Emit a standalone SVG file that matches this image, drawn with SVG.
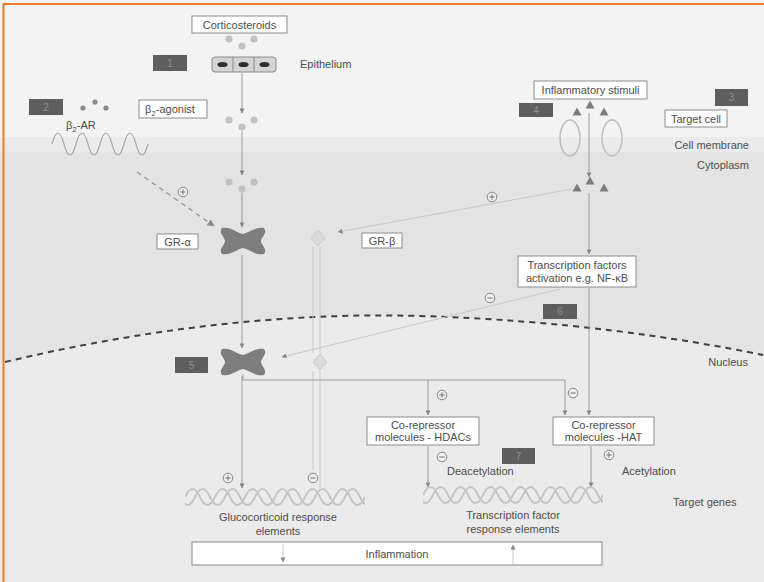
<svg xmlns="http://www.w3.org/2000/svg" width="764" height="582" viewBox="0 0 764 582">
  <style>
    text { font-family: "Liberation Sans", Arial, sans-serif; font-size: 11px; fill: #4d4d4d; }
    .c { text-anchor: middle; }
    .r { text-anchor: end; }
    .box { fill: #ffffff; stroke: #8c8c8c; stroke-width: 1; }
    .badge { fill: #5e5e5e; }
    .badge-t { font-size: 10px; fill: #8e8e8e; text-anchor: middle; }
    .link { fill: none; stroke: #9a9a9a; stroke-width: 1; }
    .faint { fill: none; stroke: #c8c8c8; stroke-width: 1; }
    .dash { fill: none; stroke: #9a9a9a; stroke-width: 1.4; stroke-dasharray: 5 4; }
    .dot { fill: #c2c2c2; }
    .dot-dk { fill: #8a8a8a; }
    .tri { fill: #7c7c7c; }
    .gr { fill: #7e7e7e; }
    .diam { fill: #dadada; stroke: #cbcbcb; stroke-width: 1; }
    .dna { fill: none; stroke: #c6c6c6; stroke-width: 2; }
  </style>
  <defs>
    <marker id="ah" viewBox="0 0 6 6" refX="5.5" refY="3" markerWidth="5" markerHeight="5" orient="auto">
      <path d="M0,0 L6,3 L0,6 z" fill="#888"/>
    </marker>
    <g id="sgn-plus">
      <circle r="4.8" fill="#efefef" stroke="#7a7a7a" stroke-width="0.9"/>
      <path d="M-2.7,0 H2.7 M0,-2.7 V2.7" stroke="#6a6a6a" stroke-width="0.9"/>
    </g>
    <g id="sgn-minus">
      <circle r="4.8" fill="#efefef" stroke="#7a7a7a" stroke-width="0.9"/>
      <path d="M-2.7,0 H2.7" stroke="#6a6a6a" stroke-width="0.9"/>
    </g>
    <path id="gr-shape" d="M-21,-13 C-13,-15 -6,-8 0,-7 C6,-8 13,-15 21,-13 C25,-8 18,-4 18,0 C18,4 25,8 21,13 C13,15 6,8 0,7 C-6,8 -13,15 -21,13 C-25,8 -18,4 -18,0 C-18,-4 -25,-8 -21,-13 Z"/>
    <path id="diamond" d="M0,-8 L7,0 L0,8 L-7,0 Z"/>
    <path id="tri" d="M0,-4.5 L4.5,3.5 L-4.5,3.5 Z"/>
    <g id="dots3">
      <circle cx="-13" cy="0" r="3.6"/>
      <circle cx="12" cy="0" r="3.6"/>
      <circle cx="0" cy="7" r="3.6"/>
    </g>
    <!-- one DNA double strand, 180 px long, strands a third of a turn apart -->
    <clipPath id="dna-clip"><rect x="0" y="-12" width="180" height="24"/></clipPath>
    <g id="dna-helix" clip-path="url(#dna-clip)">
      <path d="M0,0 Q7.5,-16 15,0 T30,0 T45,0 T60,0 T75,0 T90,0 T105,0 T120,0 T135,0 T150,0 T165,0 T180,0" class="dna"/>
      <path d="M-20,0 Q-12.5,-16 -5,0 T10,0 T25,0 T40,0 T55,0 T70,0 T85,0 T100,0 T115,0 T130,0 T145,0 T160,0 T175,0 T190,0" class="dna"/>
    </g>
  </defs>

  <!-- compartments -->
  <rect x="0" y="0" width="764" height="582" fill="#f3f3f3"/>
  <rect x="0" y="137" width="764" height="15" fill="#ebebeb"/>
  <path d="M0,152 H764 V355 C680,338 560,320 420,316 C280,312 140,330 5,362 L0,363 Z" fill="#e3e3e3"/>
  <path d="M0,363 L5,362 C140,330 280,312 420,316 C560,320 680,338 763,355 L764,355 V582 H0 Z" fill="#ebebeb"/>
  <!-- nuclear envelope -->
  <path d="M5,362 C140,330 280,312 420,316 C560,320 680,338 763,355" fill="none" stroke="#3f3f3f" stroke-width="2" stroke-dasharray="6 5"/>
  <!-- frame -->
  <path d="M3.5,582 V4 H764" fill="none" stroke="#f07b2c" stroke-width="2"/>

  <!-- compartment labels -->
  <text x="749" y="149" class="r">Cell membrane</text>
  <text x="749" y="169" class="r">Cytoplasm</text>
  <text x="748" y="366" class="r">Nucleus</text>
  <text x="673" y="506">Target genes</text>

  <!-- connectors -->
  <g id="connectors">
    <!-- glucocorticoid route -->
    <line x1="242" y1="73" x2="242" y2="113" class="link" marker-end="url(#ah)"/>
    <line x1="242" y1="131" x2="242" y2="175" class="link" marker-end="url(#ah)"/>
    <line x1="242" y1="193" x2="242" y2="227" class="link" marker-end="url(#ah)"/>
    <line x1="242" y1="255" x2="242" y2="348" class="link" marker-end="url(#ah)"/>
    <line x1="242" y1="376" x2="242" y2="488" class="link" marker-end="url(#ah)"/>
    <!-- beta2 receptor priming -->
    <line x1="137" y1="172" x2="214" y2="226" class="dash" marker-end="url(#ah)"/>
    <!-- GR-beta route -->
    <line x1="320" y1="247" x2="320" y2="353" class="faint"/>
    <line x1="313" y1="247" x2="313" y2="353" class="faint"/>
    <line x1="320" y1="371" x2="320" y2="488" class="faint"/>
    <line x1="313" y1="371" x2="313" y2="470" class="faint"/>
    <!-- inflammatory stimulus route -->
    <line x1="589" y1="113" x2="589" y2="177" class="link" marker-end="url(#ah)"/>
    <line x1="589" y1="193" x2="589" y2="254" class="link" marker-end="url(#ah)"/>
    <line x1="589" y1="288" x2="589" y2="415" class="link" marker-end="url(#ah)"/>
    <line x1="591" y1="446" x2="591" y2="487" class="link" marker-end="url(#ah)"/>
    <line x1="572" y1="189" x2="338" y2="232" class="faint" marker-end="url(#ah)"/>
    <line x1="560" y1="289" x2="282" y2="357" class="faint" marker-end="url(#ah)"/>
    <!-- nuclear GR branches -->
    <polyline points="243,374 243,380 565,380 565,415" class="link" marker-end="url(#ah)"/>
    <line x1="428" y1="380" x2="428" y2="415" class="link" marker-end="url(#ah)"/>
    <line x1="428" y1="446" x2="428" y2="487" class="link" marker-end="url(#ah)"/>

    <!-- modulation signs -->
    <use href="#sgn-plus" x="183" y="192"/>
    <use href="#sgn-plus" x="492" y="197"/>
    <use href="#sgn-minus" x="490" y="298"/>
    <use href="#sgn-plus" x="442" y="395"/>
    <use href="#sgn-minus" x="573" y="393"/>
    <use href="#sgn-minus" x="442" y="457"/>
    <use href="#sgn-plus" x="609" y="455"/>
    <use href="#sgn-plus" x="228" y="478"/>
    <use href="#sgn-minus" x="313" y="478"/>
  </g>

  <!-- badges -->
  <g id="badge-1"><rect x="153" y="55" width="34" height="16" class="badge"/><text x="170" y="67" class="badge-t">1</text></g>
  <g id="badge-2"><rect x="29" y="99" width="34" height="16" class="badge"/><text x="46" y="111" class="badge-t">2</text></g>
  <g id="badge-3"><rect x="715" y="89" width="33" height="17" class="badge"/><text x="731.5" y="101" class="badge-t">3</text></g>
  <g id="badge-4"><rect x="519" y="103" width="34" height="14" class="badge"/><text x="536" y="114" class="badge-t">4</text></g>
  <g id="badge-5"><rect x="175" y="357" width="33" height="16" class="badge"/><text x="191.5" y="369" class="badge-t">5</text></g>
  <g id="badge-6"><rect x="543" y="304" width="34" height="15" class="badge"/><text x="560" y="315" class="badge-t">6</text></g>
  <g id="badge-7"><rect x="502" y="448" width="33" height="16" class="badge"/><text x="518.5" y="460" class="badge-t">7</text></g>

  <!-- corticosteroids -->
  <g id="corticosteroids">
    <rect x="192" y="16" width="95" height="17" class="box"/>
    <text x="239.5" y="28.5" class="c">Corticosteroids</text>
    <use href="#dots3" x="242" y="39" class="dot"/>
  </g>

  <!-- epithelium -->
  <g id="epithelium">
    <rect x="212" y="57" width="64" height="15" rx="3" fill="#d4d4d4" stroke="#8a8a8a"/>
    <line x1="233" y1="57" x2="233" y2="72" stroke="#8a8a8a"/>
    <line x1="254" y1="57" x2="254" y2="72" stroke="#8a8a8a"/>
    <ellipse cx="222.5" cy="64.5" rx="5" ry="2.6" fill="#2e2e2e"/>
    <ellipse cx="243.5" cy="64.5" rx="5" ry="2.6" fill="#2e2e2e"/>
    <ellipse cx="264.5" cy="64.5" rx="5" ry="2.6" fill="#2e2e2e"/>
    <text x="300" y="68">Epithelium</text>
  </g>

  <g id="steroid-crossing"><use href="#dots3" x="242" y="120" class="dot"/></g>
  <g id="steroid-cytoplasm"><use href="#dots3" x="242" y="182" class="dot"/></g>

  <!-- beta2 adrenergic receptor -->
  <g id="b2ar">
    <circle cx="83" cy="108" r="2.6" class="dot-dk"/>
    <circle cx="95" cy="102" r="2.6" class="dot-dk"/>
    <circle cx="106" cy="108" r="2.6" class="dot-dk"/>
    <text x="66" y="129">β<tspan font-size="8" dy="3">2</tspan><tspan dy="-3">-AR</tspan></text>
    <path d="M52,144 Q58,122 64,144 T76,144 T88,144 T100,144 T112,144 T124,144 T136,144 T148,144" fill="none" stroke="#a8a8a8" stroke-width="1.2"/>
  </g>

  <g id="b2-agonist">
    <rect x="139" y="100" width="68" height="18" class="box"/>
    <text x="145" y="113">β<tspan font-size="8" dy="3">2</tspan><tspan dy="-3">-agonist</tspan></text>
  </g>

  <!-- glucocorticoid receptors -->
  <g id="gr-alpha">
    <use href="#gr-shape" x="243" y="241" class="gr"/>
    <rect x="157" y="234" width="41" height="15" class="box"/>
    <text x="177.5" y="245.5" class="c">GR-α</text>
  </g>
  <g id="gr-beta">
    <use href="#diamond" x="318" y="238" class="diam"/>
    <rect x="362" y="233" width="40" height="15" class="box"/>
    <text x="382" y="244.5" class="c">GR-β</text>
  </g>
  <g id="gr-nuclear"><use href="#gr-shape" x="243" y="362" class="gr"/></g>
  <g id="gr-beta-nuclear"><use href="#diamond" x="320" y="362" class="diam"/></g>

  <!-- inflammatory stimuli -->
  <g id="stimuli">
    <rect x="534" y="81" width="113" height="18" class="box"/>
    <text x="590.5" y="94" class="c">Inflammatory stimuli</text>
    <use href="#tri" x="590" y="105" class="tri"/>
    <use href="#tri" x="577" y="112" class="tri"/>
    <use href="#tri" x="604" y="112" class="tri"/>
  </g>
  <g id="membrane-receptors">
    <ellipse cx="570" cy="138" rx="10" ry="18" fill="none" stroke="#bdbdbd" stroke-width="1.5"/>
    <ellipse cx="612" cy="138" rx="10" ry="18" fill="none" stroke="#bdbdbd" stroke-width="1.5"/>
  </g>
  <g id="stimuli-cytoplasm">
    <use href="#tri" x="590" y="181" class="tri"/>
    <use href="#tri" x="577" y="188" class="tri"/>
    <use href="#tri" x="604" y="188" class="tri"/>
  </g>

  <g id="target-cell">
    <rect x="665" y="110" width="62" height="17" class="box"/>
    <text x="696" y="122.5" class="c">Target cell</text>
  </g>

  <g id="tf-activation">
    <rect x="518" y="256" width="118" height="31" class="box"/>
    <text x="577" y="268.5" class="c">Transcription factors</text>
    <text x="577" y="282" class="c">activation e.g. NF-κB</text>
  </g>

  <g id="hdac">
    <rect x="367" y="417" width="112" height="28" class="box"/>
    <text x="423" y="428.5" class="c">Co-repressor</text>
    <text x="423" y="441" class="c">molecules - HDACs</text>
    <text x="447" y="475">Deacetylation</text>
  </g>
  <g id="hat">
    <rect x="553" y="417" width="101" height="28" class="box"/>
    <text x="603.5" y="428.5" class="c">Co-repressor</text>
    <text x="603.5" y="441" class="c">molecules -HAT</text>
    <text x="622" y="475">Acetylation</text>
  </g>

  <!-- DNA response elements -->
  <g id="gre">
    <use href="#dna-helix" x="185" y="497"/>
    <text x="278" y="521" class="c">Glucocorticoid response</text>
    <text x="278" y="535" class="c">elements</text>
  </g>
  <g id="tfre">
    <use href="#dna-helix" x="423" y="495"/>
    <text x="513" y="519" class="c">Transcription factor</text>
    <text x="513" y="533" class="c">response elements</text>
  </g>

  <g id="inflammation">
    <rect x="192" y="542" width="410" height="23" fill="#ffffff" stroke="#9a9a9a" stroke-width="1.2"/>
    <line x1="283" y1="544" x2="283" y2="562" class="faint" marker-end="url(#ah)"/>
    <line x1="513" y1="564" x2="513" y2="545" class="faint" marker-end="url(#ah)"/>
    <text x="397" y="557.5" class="c">Inflammation</text>
  </g>
</svg>
